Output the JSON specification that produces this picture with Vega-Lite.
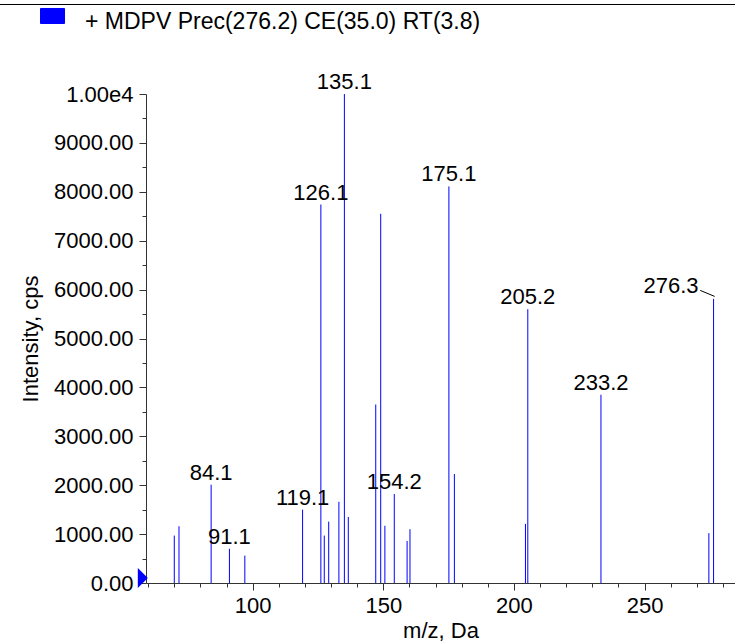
{
  "$schema": "https://vega.github.io/schema/vega-lite/v6.json",
  "usermeta": {"embedOptions": {"actions": false}},
  "width": 589,
  "height": 489,
  "autosize": {"type": "none"},
  "padding": {"left": 146, "top": 94, "right": 0, "bottom": 58},
  "background": "white",
  "config": {
    "view": {"stroke": null},
    "font": "Liberation Sans",
    "axis": {"grid": false, "domainColor": "#333333", "tickColor": "#333333", "labelColor": "#000000", "titleColor": "#000000", "labelFont": "Liberation Sans", "titleFont": "Liberation Sans", "labelFontSize": 22, "titleFontSize": 22, "titleFontWeight": "normal"}
  },
  "datasets": {
    "peaks": [
      {"mz": 70.0, "intensity": 970, "label": "", "series": "+ MDPV Prec(276.2) CE(35.0) RT(3.8)"},
      {"mz": 71.8, "intensity": 1160, "label": "", "series": "+ MDPV Prec(276.2) CE(35.0) RT(3.8)"},
      {"mz": 84.1, "intensity": 2010, "label": "84.1", "series": "+ MDPV Prec(276.2) CE(35.0) RT(3.8)"},
      {"mz": 91.1, "intensity": 700, "label": "91.1", "series": "+ MDPV Prec(276.2) CE(35.0) RT(3.8)"},
      {"mz": 97.0, "intensity": 560, "label": "", "series": "+ MDPV Prec(276.2) CE(35.0) RT(3.8)"},
      {"mz": 119.1, "intensity": 1500, "label": "119.1", "series": "+ MDPV Prec(276.2) CE(35.0) RT(3.8)"},
      {"mz": 126.1, "intensity": 7740, "label": "126.1", "series": "+ MDPV Prec(276.2) CE(35.0) RT(3.8)"},
      {"mz": 127.4, "intensity": 970, "label": "", "series": "+ MDPV Prec(276.2) CE(35.0) RT(3.8)"},
      {"mz": 129.1, "intensity": 1255, "label": "", "series": "+ MDPV Prec(276.2) CE(35.0) RT(3.8)"},
      {"mz": 133.0, "intensity": 1660, "label": "", "series": "+ MDPV Prec(276.2) CE(35.0) RT(3.8)"},
      {"mz": 135.1, "intensity": 10000, "label": "135.1", "series": "+ MDPV Prec(276.2) CE(35.0) RT(3.8)"},
      {"mz": 136.6, "intensity": 1350, "label": "", "series": "+ MDPV Prec(276.2) CE(35.0) RT(3.8)"},
      {"mz": 147.1, "intensity": 3650, "label": "", "series": "+ MDPV Prec(276.2) CE(35.0) RT(3.8)"},
      {"mz": 149.0, "intensity": 7550, "label": "", "series": "+ MDPV Prec(276.2) CE(35.0) RT(3.8)"},
      {"mz": 150.6, "intensity": 1170, "label": "", "series": "+ MDPV Prec(276.2) CE(35.0) RT(3.8)"},
      {"mz": 154.2, "intensity": 1820, "label": "154.2", "series": "+ MDPV Prec(276.2) CE(35.0) RT(3.8)"},
      {"mz": 159.1, "intensity": 860, "label": "", "series": "+ MDPV Prec(276.2) CE(35.0) RT(3.8)"},
      {"mz": 160.2, "intensity": 1100, "label": "", "series": "+ MDPV Prec(276.2) CE(35.0) RT(3.8)"},
      {"mz": 175.1, "intensity": 8110, "label": "175.1", "series": "+ MDPV Prec(276.2) CE(35.0) RT(3.8)"},
      {"mz": 177.2, "intensity": 2230, "label": "", "series": "+ MDPV Prec(276.2) CE(35.0) RT(3.8)"},
      {"mz": 204.4, "intensity": 1210, "label": "", "series": "+ MDPV Prec(276.2) CE(35.0) RT(3.8)"},
      {"mz": 205.3, "intensity": 5600, "label": "205.2", "series": "+ MDPV Prec(276.2) CE(35.0) RT(3.8)"},
      {"mz": 233.3, "intensity": 3850, "label": "233.2", "series": "+ MDPV Prec(276.2) CE(35.0) RT(3.8)"},
      {"mz": 274.6, "intensity": 1020, "label": "", "series": "+ MDPV Prec(276.2) CE(35.0) RT(3.8)"},
      {"mz": 276.4, "intensity": 5810, "label": "", "series": "+ MDPV Prec(276.2) CE(35.0) RT(3.8)"}
    ],
    "offsetLabels": [
      {"mz": 276.4, "intensity": 5810, "label": "276.3"}
    ]
  },
  "layer": [
    {
      "data": {"name": "peaks"},
      "mark": {"type": "rule", "strokeWidth": 1},
      "encoding": {
        "x": {"field": "mz", "type": "quantitative", "scale": {"domain": [59.17, 284.6], "nice": false, "zero": false},
              "axis": {"orient": "bottom", "values": [100, 150, 200, 250], "tickSize": 7, "labelPadding": 5, "title": "m/z, Da", "titleY": 54.5, "titleBaseline": "alphabetic", "labelFlush": false}},
        "y": {"field": "intensity", "type": "quantitative", "scale": {"domain": [0, 10000], "nice": false},
              "axis": {"orient": "left", "values": [0, 1000, 2000, 3000, 4000, 5000, 6000, 7000, 8000, 9000, 10000], "tickSize": 7, "labelPadding": 6, "labelExpr": "datum.value == 10000 ? '1.00e4' : format(datum.value, '.2f')", "title": "Intensity, cps", "titleX": -109, "titleY": 244.5, "titleBaseline": "alphabetic", "labelFlush": false}},
        "y2": {"datum": 0},
        "color": {"field": "series", "type": "nominal", "scale": {"range": ["#0000ff"]},
                  "legend": {"orient": "none", "legendX": -106, "legendY": -84.8, "padding": 0, "title": null, "symbolType": "M-1,-1.1H1V0.15H-1Z", "symbolSize": 576, "symbolStrokeColor": "#000033", "symbolStrokeWidth": 1, "symbolFillColor": "#0000ff", "symbolOpacity": 1, "labelFontSize": 23, "labelFont": "Liberation Sans", "labelColor": "#000000", "labelOffset": 20, "labelLimit": 600}}
      }
    },
    {
      "data": {"name": "peaks"},
      "transform": [{"filter": "datum.label != ''"}],
      "mark": {"type": "text", "baseline": "alphabetic", "align": "center", "dy": -5, "fontSize": 22, "font": "Liberation Sans", "color": "#000000"},
      "encoding": {
        "x": {"field": "mz", "type": "quantitative",
              "axis": {"orient": "bottom", "values": [60, 70, 80, 90, 100, 110, 120, 130, 140, 150, 160, 170, 180, 190, 200, 210, 220, 230, 240, 250, 260, 270, 280], "tickSize": 4, "labels": false, "domain": false, "title": null}},
        "y": {"field": "intensity", "type": "quantitative",
              "axis": {"orient": "left", "values": [500, 1500, 2500, 3500, 4500, 5500, 6500, 7500, 8500, 9500], "tickSize": 4, "labels": false, "domain": false, "title": null}},
        "text": {"field": "label"}
      }
    },
    {
      "data": {"name": "offsetLabels"},
      "mark": {"type": "text", "baseline": "alphabetic", "align": "right", "dx": -15, "dy": -6, "fontSize": 22, "font": "Liberation Sans", "color": "#000000"},
      "encoding": {
        "x": {"field": "mz", "type": "quantitative", "axis": null},
        "y": {"field": "intensity", "type": "quantitative", "axis": null},
        "text": {"field": "label"}
      }
    },
    {
      "data": {"values": [{}]},
      "mark": {"type": "rule", "color": "#000000", "strokeWidth": 1, "clip": false},
      "encoding": {
        "x": {"datum": 271.3, "axis": null},
        "y": {"datum": 5984, "axis": null},
        "x2": {"datum": 276.8},
        "y2": {"datum": 5861}
      }
    },
    {
      "data": {"values": [{}]},
      "mark": {"type": "rule", "color": "#000000", "strokeWidth": 1.2, "clip": false},
      "encoding": {
        "x": {"datum": 3.3, "axis": null},
        "x2": {"datum": 284.6},
        "y": {"datum": 11830, "axis": null}
      }
    },
    {
      "data": {"values": [{}]},
      "mark": {"type": "point", "shape": "M-0.5,-1L0.5,0L-0.5,1Z", "filled": true, "size": 400, "color": "#0000ff", "opacity": 1, "clip": false},
      "encoding": {
        "x": {"datum": 57.95, "axis": null},
        "y": {"datum": 100, "axis": null}
      }
    }
  ],
  "resolve": {"axis": {"x": "independent", "y": "independent"}}
}
